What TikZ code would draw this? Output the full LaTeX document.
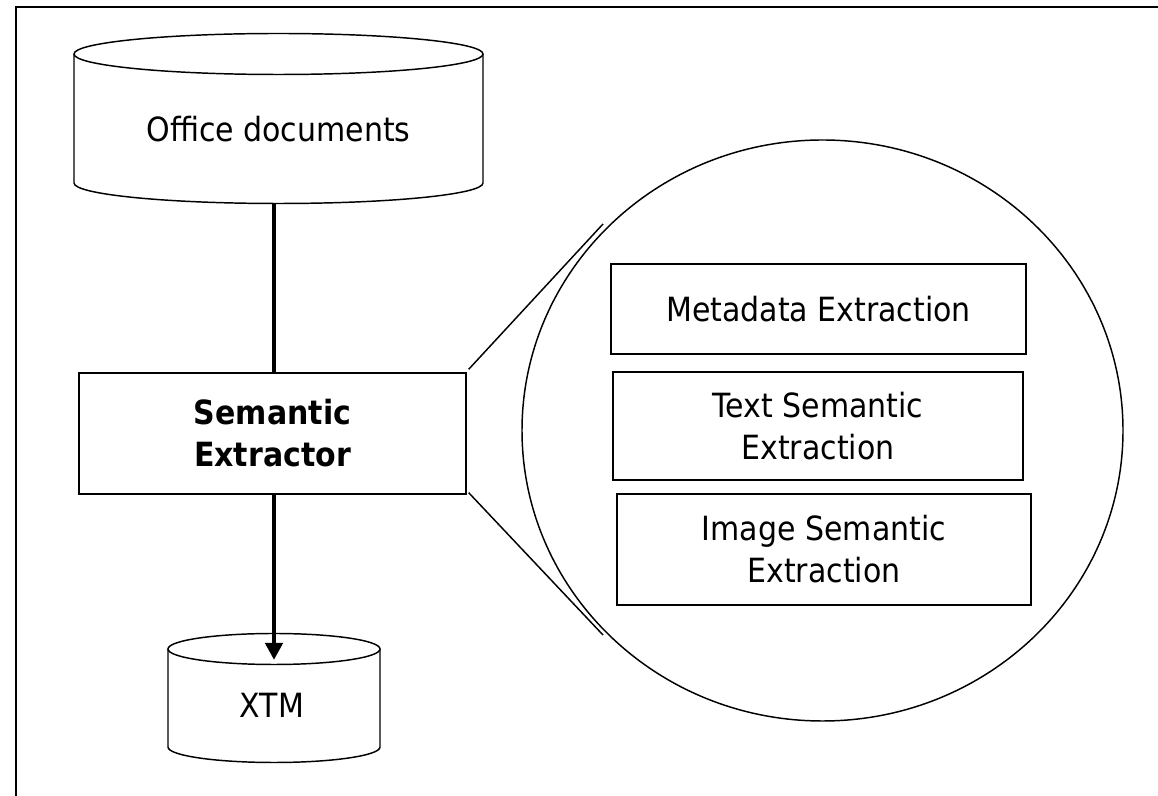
\documentclass[tikz,border=0pt]{standalone}
\usepackage{fontspec}
\setmainfont{DejaVu Sans}[FakeStretch=0.90]
\usetikzlibrary{arrows.meta,shapes.geometric}

% upright drum: centre x, y of top cap, y of bottom cap, x radius, y radius
\newcommand{\dbdrum}[5]{%
  \draw[drawline] (#1,#2) ellipse [x radius={#4*0.75pt}, y radius={#5*0.75pt}];
  \draw[drawline] ({#1-#4},#2) -- ({#1-#4},#3)
    arc[start angle=180, end angle=360, x radius={#4*0.75pt}, y radius={#5*0.75pt}]
    -- ({#1+#4},#2);
}

\begin{document}
\begin{tikzpicture}[x=0.75pt,y=0.75pt,
  drawline/.style={line width=1.1pt, draw=black},
  mainfont/.style={font=\fontsize{25}{31.5}\selectfont},
  txt/.style={mainfont, inner sep=0pt, align=center},
  procbox/.style={draw, drawline, rectangle, inner sep=0pt, align=center, mainfont},
  flow/.style={line width=3.3pt, draw=black}
]
\fill[white] (0,0) rectangle (1158,796);
\useasboundingbox (0,0) rectangle (1158,796);

% outer frame
\draw[line width=1.5pt] (16,-20) -- (16,789) -- (1190,789);

% source store
\dbdrum{278.5}{742}{613}{204.5}{20.5}
\node[txt] (office) at (278.5,667) {Office documents};
\coordinate (officebase) at (274,593);

% extractor
\node[procbox, minimum width=387*0.75pt, minimum height=121*0.75pt,
      font=\fontsize{25}{31.5}\selectfont\bfseries] (sem) at (272.5,362.5) {Semantic\\Extractor};

% target store
\dbdrum{274}{147}{49}{106}{15.5}
\node[txt] (xtm) at (272,91) {XTM};
\coordinate (xtmtop) at (274,136);

% flow
\draw[flow] (officebase) -- (officebase |- sem.north);
\draw[flow, -{Triangle[length=12.75pt,width=12.75pt]}] (sem.south -| xtmtop) -- (xtmtop);

% detail view
\node[draw, drawline, ellipse, inner sep=0pt,
      minimum width=601*0.75pt, minimum height=581*0.75pt] (zoom) at (822.5,365.5) {};
\coordinate (zt) at (603,572);
\coordinate (zb) at (603,161);
\draw[drawline] ([shift={(2,3)}]sem.north east) -- (zt);
\draw[drawline] ([shift={(2,2)}]sem.south east) -- (zb);

\node[procbox, minimum width=415*0.75pt, minimum height=90*0.75pt] (meta) at (818.5,487) {Metadata Extraction};
\node[procbox, minimum width=410*0.75pt, minimum height=108*0.75pt] (textsem) at (818,370) {Text Semantic\\Extraction};
\node[procbox, minimum width=414*0.75pt, minimum height=111*0.75pt] (imgsem) at (824,246.5) {Image Semantic\\Extraction};
\end{tikzpicture}
\end{document}
